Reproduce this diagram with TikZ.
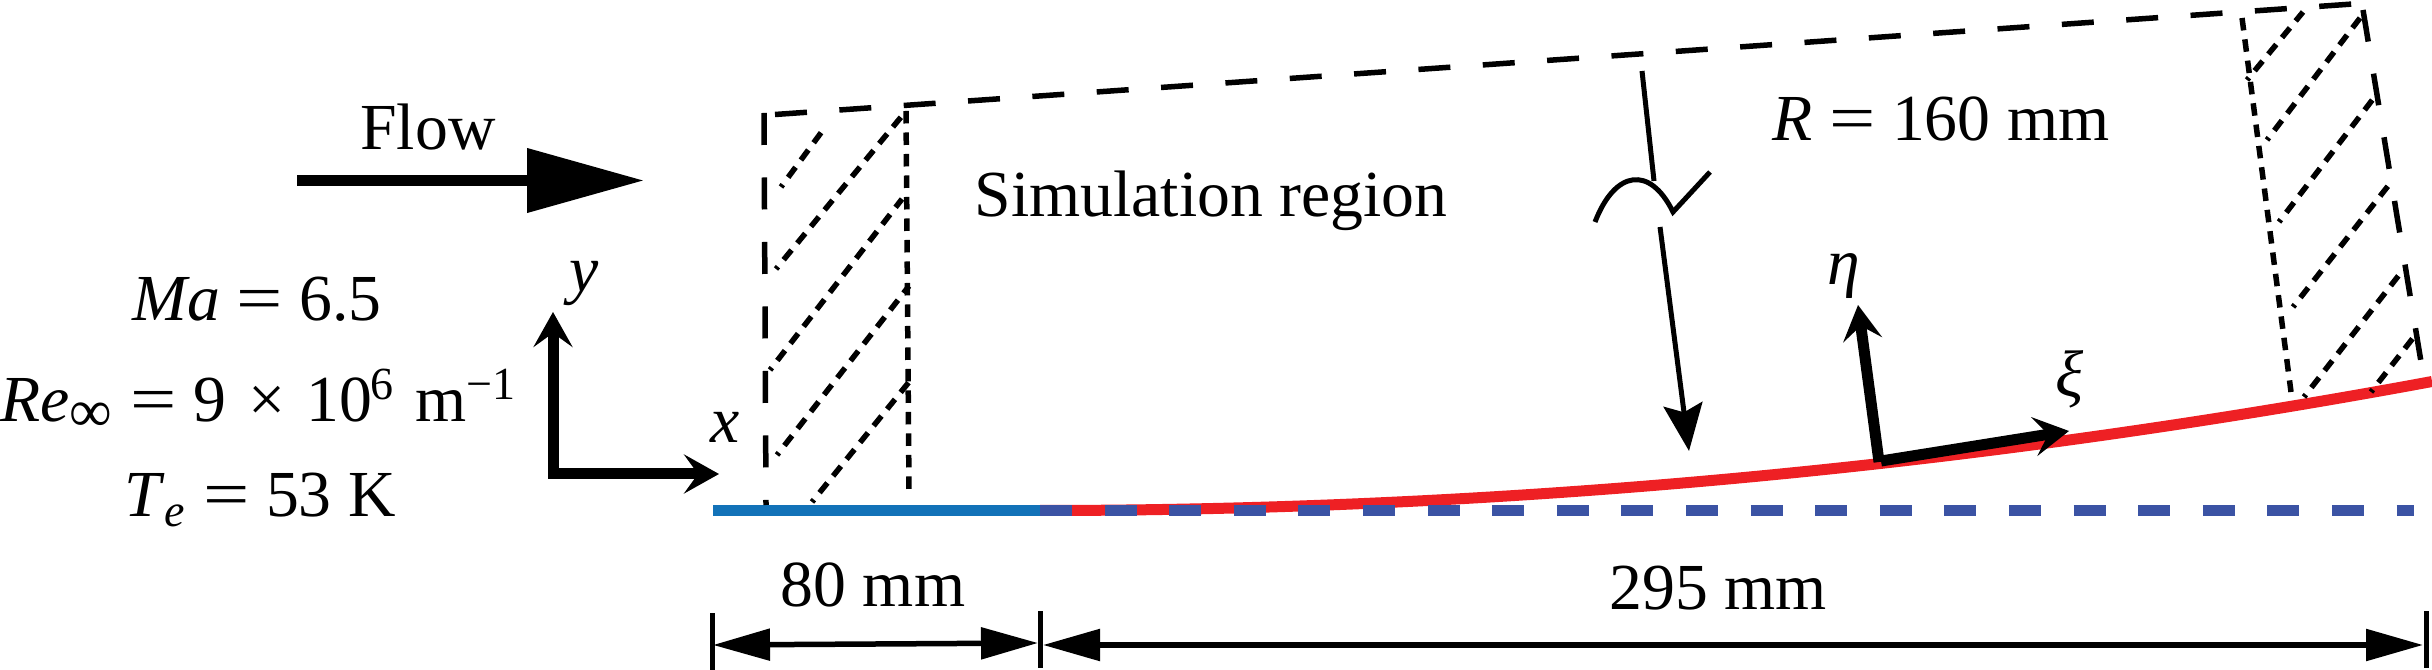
\documentclass[tikz,border=0pt]{standalone}
\usepackage{fontspec}
\setmainfont{Liberation Serif}
\usetikzlibrary{arrows.meta}
\newcommand{\eqsign}{\scalebox{1.25}[1]{=}}
\tikzset{
    label text/.style = {inner sep=0pt, anchor=base, font={\fontsize{18.7pt}{22pt}\selectfont}},
    outline/.style = {color=black, line width=0.55mm, dash pattern=on 3.2mm off 3.25mm},
    sponge/.style = {color=black, line width=0.55mm, dash pattern=on 1.25mm off 0.9mm},
    hatch/.style = {sponge, dash phase=0.95mm},
    axis arrow/.style = {color=black, line width=1.1mm, -{Stealth[length=3.5mm, width=3.9mm, inset=1.4mm]}},
    dim arrow/.style = {color=black, line width=0.55mm, {Triangle[length=5.7mm, width=3.1mm]}-{Triangle[length=5.7mm, width=3.1mm]}},
    dim tick/.style = {color=black, line width=0.5mm},
}

\begin{document}
\begin{tikzpicture}[x=0.1mm, y=-0.1mm]
    \useasboundingbox (0, 0) rectangle (2432, 670);

    % labels
    \node[label text] (flowlabel) at (428, 150) {Flow};
    \node[label text] (machlabel) at (257, 321) {\textit{Ma} \eqsign{} 6.5};
    \node[label text] (relabel) at (259, 422) {\textit{Re}\textsubscript{\fontsize{17pt}{17pt}\selectfont ∞} \eqsign{} 9\hspace{0.6mm} × \hspace{0.5mm}10\kern-0.2mm\textsuperscript{6}\hspace{0.4mm} m\textsuperscript{−1}};
    \node[label text] (templabel) at (260, 517) {\textit{T}\textsubscript{\textit{e}} \eqsign{} 53 K};
    \node[label text] (simlabel) at (1211, 217) {Simulation region};
    \node[label text] (radiuslabel) at (1941, 141) {\textit{R} \eqsign{} 160 mm};
    \node[label text] (shortlabel) at (873, 606) {80 mm};
    \node[label text] (longlabel) at (1718, 609) {295 mm};
    \node[label text] (ylabel) at (584, 292) {\textit{y}};
    \node[label text] (xlabel) at (725, 443) {\textit{x}};
    \node[label text] (etalabel) at (1844, 285) {\textit{η}};
    \node[label text] (xilabel) at (2070, 397) {\textit{ξ}};

    % flow arrow
    \coordinate (flowstart) at (297, 180.5);
    \coordinate (flowend) at (644, 180.5);
    \draw[color=black, line width=1.07mm, -{Triangle[length=11.7mm, width=6.2mm]}] (flowstart) -- (flowend);

    % wall
    \coordinate (wallstart) at (713, 510.5);
    \coordinate (wallmid) at (1040, 510.5);
    \coordinate (wallend) at (2414, 510.5);
    \coordinate (curveend) at (2432, 381.5);
    \draw[color={rgb,255:red,18;green,114;blue,184}, line width=1.1mm] (wallstart) -- (wallmid);
    \draw[color={rgb,255:red,238;green,32;blue,36}, line width=1.1mm] (wallmid) .. controls (1504, 510.5) and (1968, 467.5) .. (curveend);
    \draw[color={rgb,255:red,59;green,83;blue,164}, line width=1.1mm, dash pattern=on 3.2mm off 3.26mm] (wallmid) -- (wallend);

    % simulation region
    \coordinate (boxa) at (764, 113);
    \coordinate (boxb) at (766, 505);
    \coordinate (boxc) at (775, 114.5);
    \coordinate (boxd) at (2353, 4);
    \coordinate (boxe) at (2363, 10);
    \coordinate (boxf) at (2421, 362);
    \draw[outline] (boxa) -- (boxb);
    \draw[outline] (boxc) -- (boxd);
    \draw[outline] (boxe) -- (boxf);

    % sponge zones
    \draw[sponge] (906, 111) -- (909, 492);
    \draw[hatch] (781, 187) -- (826, 126);
    \draw[hatch] (776, 269) -- (906, 111);
    \draw[hatch] (770, 370) -- (902, 199);
    \draw[hatch] (777, 455) -- (909, 286);
    \draw[hatch] (812, 502) -- (909, 382);
    \draw[sponge] (2242, 18) -- (2291, 392);
    \draw[hatch] (2247, 80) -- (2303, 12);
    \draw[hatch] (2267, 140) -- (2360, 18);
    \draw[hatch] (2279, 222) -- (2373, 99);
    \draw[hatch] (2293, 307) -- (2388, 186);
    \draw[hatch] (2304, 397) -- (2399, 275);
    \draw[hatch] (2371, 392) -- (2413, 338);

    % radius arrow with break
    \coordinate (radiusa) at (1642, 71);
    \coordinate (radiusb) at (1654, 181);
    \coordinate (radiusc) at (1660, 227);
    \coordinate (radiusd) at (1689, 451);
    \draw[color=black, line width=0.5mm] (radiusa) -- (radiusb);
    \draw[color=black, line width=0.5mm, -{Stealth[length=4.7mm, width=3.9mm, inset=0.8mm]}] (radiusc) -- (radiusd);
    \draw[color=black, line width=0.5mm] (1595, 222) .. controls (1615, 170) and (1650, 165) .. (1673, 212) -- (1710, 172);

    % axes
    \coordinate (xyorigin) at (553, 474);
    \coordinate (yaxis) at (553, 312);
    \coordinate (xaxis) at (719, 474);
    \draw[axis arrow] ([yshift=-0.5mm]xyorigin) -- (yaxis);
    \draw[axis arrow] ([xshift=-0.5mm]xyorigin) -- (xaxis);
    \coordinate (etastart) at (1879, 462);
    \coordinate (xistart) at (1881, 461);
    \coordinate (etaaxis) at (1858, 305);
    \coordinate (xiaxis) at (2069, 431);
    \draw[axis arrow] (etastart) -- (etaaxis);
    \draw[axis arrow] (xistart) -- (xiaxis);

    % dimensions
    \coordinate (ticka) at (712, 613);
    \coordinate (tickb) at (1040, 611);
    \coordinate (tickc) at (2426, 611);
    \draw[dim tick] (ticka) -- ++(0, 57);
    \draw[dim tick] (tickb) -- ++(0, 57);
    \draw[dim tick] (tickc) -- ++(0, 57);
    \coordinate (dima) at (713, 645);
    \coordinate (dimb) at (1038, 643);
    \coordinate (dimc) at (1043, 645);
    \coordinate (dimd) at (2423, 645);
    \draw[dim arrow] (dima) -- (dimb);
    \draw[dim arrow] (dimc) -- (dimd);
\end{tikzpicture}
\end{document}
